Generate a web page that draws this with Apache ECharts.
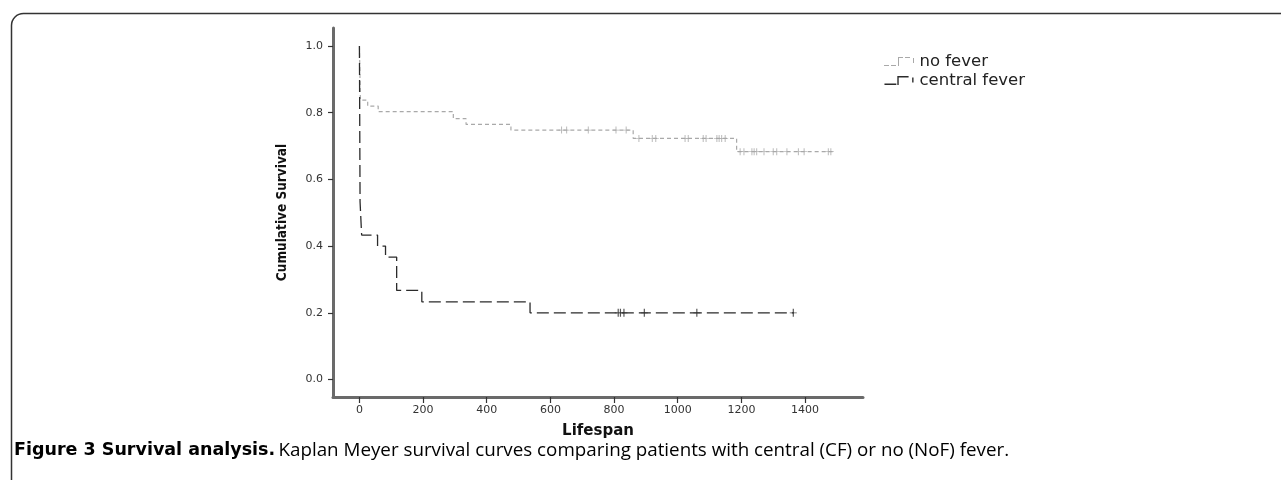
<!DOCTYPE html>
<html>
<head>
<meta charset="utf-8">
<script src="https://cdn.jsdelivr.net/npm/echarts@6/dist/echarts.min.js"></script>
<style>
html,body{margin:0;padding:0;background:#fff;}
#c{width:1281px;height:480px;}
</style>
</head>
<body>
<div id="c"></div>
<script>
// ---- data ----
const seriesNames = ['no fever', 'central fever'];
const xTicks = [0, 200, 400, 600, 800, 1000, 1200, 1400];
const yTicks = [0.0, 0.2, 0.4, 0.6, 0.8, 1.0];

// no fever: event times and survival level from that time on
const nfTimes = [0, 3, 26, 59, 295, 335, 476, 860, 1185, 1494];
const nfSurv  = [1.0, 0.838, 0.82, 0.803, 0.782, 0.765, 0.748, 0.723, 0.683, 0.683];
const nfCensor = [635, 651, 719, 806, 838, 878, 920, 931, 1023, 1033, 1080, 1089, 1123, 1130, 1138, 1149,
                  1196, 1208, 1233, 1240, 1248, 1271, 1300, 1311, 1343, 1379, 1397, 1473, 1481];

// central fever
const cfTimes = [0, 2, 7, 57, 82, 117, 196, 536, 1365];
const cfSurv  = [1.0, 0.533, 0.433, 0.4, 0.367, 0.267, 0.233, 0.2, 0.2];
const cfCensor = [813, 820, 831, 895, 1060, 1363];

const captionBold = 'Figure 3 Survival analysis.';
const captionRest = 'Kaplan Meyer survival curves comparing patients with central (CF) or no (NoF) fever.';

// ---- helpers ----
function pairs(t, s) { return t.map((v, i) => [v, s[i]]); }
function levelAt(t, times, surv) {
  let v = surv[0];
  for (let i = 0; i < times.length; i++) { if (times[i] <= t) v = surv[i]; }
  return v;
}
function censorPts(cs, times, surv) { return cs.map(t => [t, levelAt(t, times, surv)]); }

const plusPath = 'path://M-0.5,-5L0.5,-5L0.5,-0.5L3,-0.5L3,0.5L0.5,0.5L0.5,5L-0.5,5L-0.5,0.5L-3,0.5L-3,-0.5L-0.5,-0.5Z';
const nfColor = '#a9a9a9';
const cfColor = '#2b2b2b';

const chart = echarts.init(document.getElementById('c'), null, {renderer: 'canvas'});
const axisFont = 'DejaVu Sans';

chart.setOption({
  animation: false,
  backgroundColor: '#fff',
  grid: {left: 333, top: 28, width: 530, height: 369, containLabel: false},
  xAxis: {
    type: 'value', min: -83, max: 1582,
    name: 'Lifespan', nameLocation: 'middle', nameGap: 27,
    nameTextStyle: {fontFamily: axisFont, fontWeight: 'bold', fontSize: 15, color: '#111'},
    axisLine: {show: true, onZero: false, lineStyle: {color: '#6a6a6a', width: 3}},
    axisTick: {show: true, length: 6, lineStyle: {color: '#333', width: 1.2}, customValues: xTicks},
    axisLabel: {show: true, margin: 8, fontFamily: axisFont, fontSize: 11, color: '#333', customValues: xTicks,
                formatter: v => String(v)},
    splitLine: {show: false}
  },
  yAxis: {
    type: 'value', min: -0.0525, max: 1.054,
    name: 'Cumulative Survival', nameLocation: 'middle', nameGap: 44, nameRotate: 90,
    nameTextStyle: {fontFamily: "'Liberation Sans Narrow','DejaVu Sans Condensed',sans-serif", fontWeight: 'bold', fontSize: 13.5, color: '#111'},
    axisLine: {show: true, onZero: false, lineStyle: {color: '#6a6a6a', width: 3}},
    axisTick: {show: true, length: 5, lineStyle: {color: '#333', width: 1.2}, customValues: yTicks},
    axisLabel: {show: true, margin: 10, fontFamily: axisFont, fontSize: 11, color: '#333', customValues: yTicks,
                formatter: v => v.toFixed(1)},
    splitLine: {show: false}
  },
  legend: {
    orient: 'vertical', left: 884, top: 53, padding: 0, itemWidth: 31, itemHeight: 9, itemGap: 2,
    textStyle: {fontFamily: axisFont, fontSize: 16.5, color: '#222'},
    data: [
      {name: seriesNames[0], icon: 'path://M0,8h5v1h-5zM7,8h5v1h-5zM14,0h1v9h-1zM15,0h4v1h-4zM21,0h5v1h-5zM29,1h1v5h-1z'},
      {name: seriesNames[1], icon: 'path://M0,7.5h12v1.6h-12zM13,0h1.4v9.1h-1.4zM14.4,0h10v1.4h-10zM28,1.5h1.4v5h-1.4z'}
    ],
    selectedMode: false
  },
  series: [
    {
      name: seriesNames[0], type: 'line', step: 'end', data: pairs(nfTimes, nfSurv),
      showSymbol: false, symbol: 'none', color: nfColor, z: 2,
      lineStyle: {color: nfColor, width: 1.2, type: [4, 3]}
    },
    {
      name: seriesNames[1], type: 'line', step: 'end', data: pairs(cfTimes, cfSurv),
      showSymbol: false, symbol: 'none', color: cfColor, z: 3,
      lineStyle: {color: cfColor, width: 1.3, type: [12, 5]}
    },
    {
      name: 'nf-censor', type: 'scatter', data: censorPts(nfCensor, nfTimes, nfSurv),
      symbol: plusPath, symbolSize: [6, 7], itemStyle: {color: nfColor}, z: 2
    },
    {
      name: 'cf-censor', type: 'scatter', data: censorPts(cfCensor, cfTimes, cfSurv),
      symbol: plusPath, symbolSize: [7, 8], itemStyle: {color: cfColor}, z: 3
    }
  ],
  graphic: [
    {
      type: 'rect', left: 9, top: 11, silent: true,
      shape: {x: 0, y: 0, width: 1300, height: 500, r: 12},
      style: {fill: 'none', stroke: '#333', lineWidth: 1.5}
    },
    {
      type: 'text', left: 14, top: 441, silent: true,
      style: {
        text: '{b|' + captionBold + '} {n|' + captionRest + '}',
        rich: {
          b: {fontFamily: "'DejaVu Sans'", fontWeight: 'bold', fontSize: 17.5, color: '#1a1a1a'},
          n: {fontFamily: "'Open Sans'", fontSize: 18.8, color: '#2a2a2a'}
        }
      }
    }
  ]
});
</script>
</body>
</html>
